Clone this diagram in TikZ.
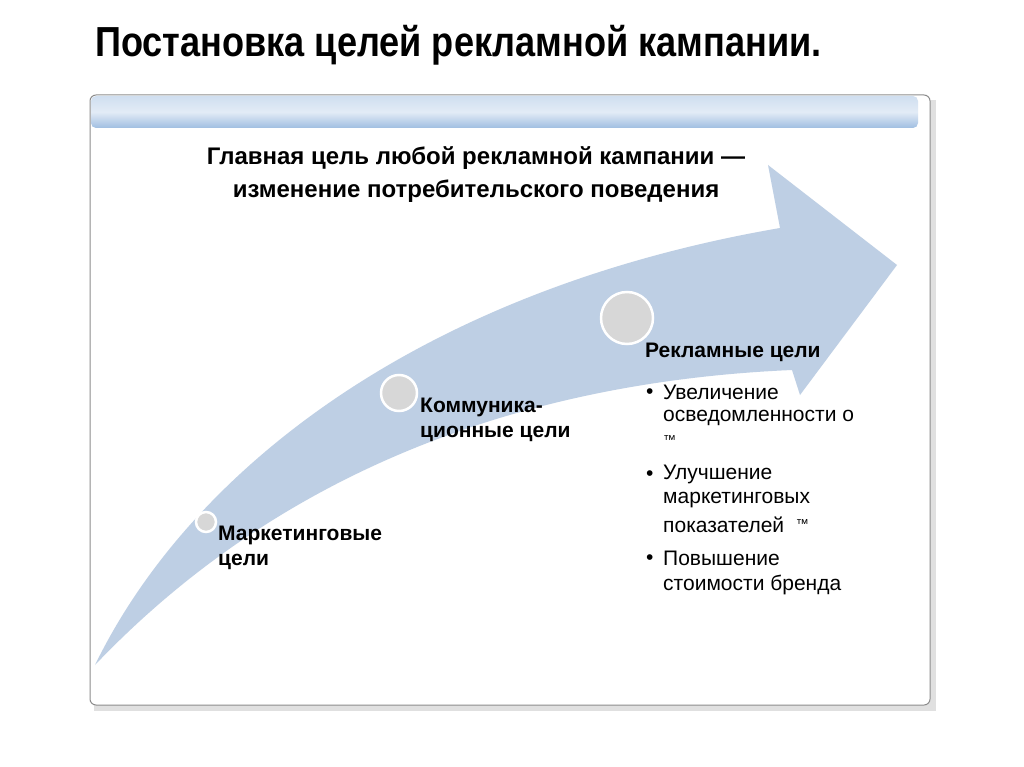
\documentclass[tikz,border=0pt]{standalone}
\usepackage{fontspec}
\setmainfont{Liberation Sans}
\usetikzlibrary{shadows}
\definecolor{arrowblue}{RGB}{190,207,228}
\definecolor{barblue}{RGB}{160,190,225}
\definecolor{circgray}{RGB}{215,215,215}
\tikzset{
  lbl/.style={anchor=west,inner sep=0pt,font=\fontsize{21}{24}\selectfont\bfseries},
  item/.style={anchor=west,inner sep=0pt,font=\fontsize{21}{24}\selectfont},
  head/.style={anchor=center,inner sep=0pt,font=\fontsize{24}{27}\selectfont\bfseries},
  dot/.style={circle,fill=circgray,draw=white,line width=2.5pt,inner sep=0pt}
}
\begin{document}
\begin{tikzpicture}[x=1pt,y=-1pt]
\useasboundingbox (0,0) rectangle (1024,767);
\fill[white] (0,0) rectangle (1024,767);
\node[inner sep=0pt,anchor=west,font=\fontsize{42}{46}\selectfont\bfseries,xscale=0.86] (title) at (95,45) {Постановка целей рекламной кампании.};
% panel
\fill[black!12] (94,100) rectangle (936,711);
\draw[black!45,line width=1pt,fill=white,rounded corners=6] (90,95) rectangle (930,705);
\shade[top color=barblue!50,bottom color=barblue,middle color=white!70!barblue,rounded corners=5] (91,96) rectangle (918,128);
% arrow
\fill[arrowblue] (95,665) .. controls (190,470) and (420,290) .. (780,228)
  -- (768,165) -- (897,265) -- (800,395) -- (792,370)
  .. controls (560,380) and (300,450) .. cycle;
\node[dot,minimum size=20pt] (c1) at (206,522) {};
\node[dot,minimum size=36pt] (c2) at (399,393) {};
\node[dot,minimum size=52pt] (c3) at (627,318) {};
\node[head] (h1) at (476,158) {Главная цель любой рекламной кампании —};
\node[head] (h2) at (476,191) {изменение потребительского поведения};
\node[lbl] (m1) at (218,535) {Маркетинговые};
\node[lbl] (m2) at (218,562) {цели};
\node[lbl] (k1) at (420,407) {Коммуника-};
\node[lbl] (k2) at (420,434) {ционные цели};
\node[lbl] (r0) at (645,352) {Рекламные цели};
\foreach \y in {394,476,560} \node[item] at (646,\y) {•};
\node[item] (a1) at (663,392) {Увеличение};
\node[item] (a2) at (663,418) {осведомленности о};
\node[item,font=\fontsize{13}{14}\selectfont] (a3) at (663,440) {™};
\node[item] (b1) at (663,474) {Улучшение};
\node[item] (b2) at (663,500) {маркетинговых};
\node[item] (b3) at (663,525) {показателей \ \raisebox{4pt}{\fontsize{13}{14}\selectfont ™}};
\node[item] (d1) at (663,558) {Повышение};
\node[item] (d2) at (663,585) {стоимости бренда};
\end{tikzpicture}
\end{document}
